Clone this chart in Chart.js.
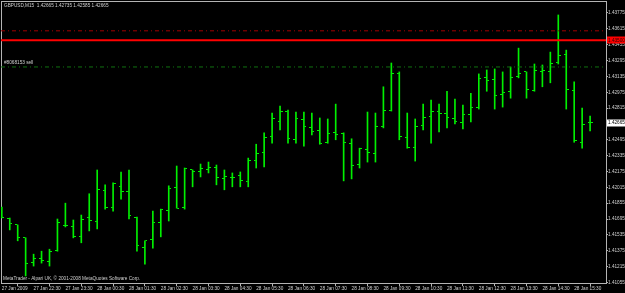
<!DOCTYPE html>
<html>
<head>
<meta charset="utf-8">
<script src="https://cdn.jsdelivr.net/npm/chart.js@4.4.1/dist/chart.umd.min.js"></script>
<style>
  html, body { margin: 0; padding: 0; background: #000; }
  #wrap { width: 625px; height: 293px; }
</style>
</head>
<body>
<div id="wrap"><canvas id="chart" width="625" height="293"></canvas></div>
<script>
// GBPUSD M15 bars, 27 Jan 2009 21:30 -> 28 Jan 2009 16:00
const symbolTitle = 'GBPUSD,M15  1.42665 1.42735 1.42585 1.42665';
const footerText = 'MetaTrader - Alpari UK, \u00a9 2001-2008 MetaQuotes Software Corp.';
const orderLabel = '#8068153 sell';

const opens = [
  1.41765, 1.41705, 1.41635, 1.41505, 1.41260, 1.41300, 1.41270, 1.41380, 1.41625, 1.41615,
  1.41515, 1.41715, 1.41665, 1.41980, 1.41815, 1.42020, 1.41970, 1.41715, 1.41410, 1.41485,
  1.41655, 1.41785, 1.42010, 1.41815, 1.42190, 1.42170, 1.42190, 1.42220, 1.42100, 1.42110,
  1.42130, 1.42070, 1.42290, 1.42370, 1.42525, 1.42675, 1.42785, 1.42495, 1.42695, 1.42615,
  1.42585, 1.42470, 1.42565, 1.42555, 1.42460, 1.42250, 1.42400, 1.42360, 1.42625, 1.42795,
  1.43160, 1.42515, 1.42420, 1.42635, 1.42725, 1.42785, 1.42765, 1.42705, 1.42665, 1.42755,
  1.42825, 1.43120, 1.43100, 1.42955, 1.42985, 1.43130, 1.43180, 1.42995, 1.43180, 1.43180,
  1.43280, 1.43360, 1.42995, 1.42470, 1.42665
];
const highs = [
  1.41815, 1.41705, 1.41635, 1.41505, 1.41340, 1.41370, 1.41390, 1.41695, 1.41855, 1.41685,
  1.41735, 1.41950, 1.42190, 1.42040, 1.42060, 1.42170, 1.42190, 1.41715, 1.41475, 1.41775,
  1.41795, 1.42030, 1.42230, 1.42210, 1.42190, 1.42250, 1.42270, 1.42240, 1.42190, 1.42160,
  1.42170, 1.42310, 1.42450, 1.42565, 1.42765, 1.42835, 1.42795, 1.42775, 1.42775, 1.42765,
  1.42715, 1.42705, 1.42855, 1.42565, 1.42505, 1.42410, 1.42775, 1.42765, 1.43030, 1.43270,
  1.43180, 1.42765, 1.42705, 1.42855, 1.42895, 1.42855, 1.42985, 1.42905, 1.42845, 1.42965,
  1.43160, 1.43200, 1.43210, 1.43180, 1.43230, 1.43420, 1.43180, 1.43260, 1.43250, 1.43380,
  1.43755, 1.43400, 1.43080, 1.42815, 1.42735
];
const lows = [
  1.41705, 1.41585, 1.41475, 1.41120, 1.41220, 1.41250, 1.41220, 1.41370, 1.41615, 1.41505,
  1.41455, 1.41575, 1.41595, 1.41795, 1.41775, 1.41895, 1.41695, 1.41370, 1.41240, 1.41400,
  1.41515, 1.41675, 1.41805, 1.41795, 1.42020, 1.42120, 1.42160, 1.42040, 1.41990, 1.42020,
  1.42020, 1.42020, 1.42210, 1.42220, 1.42460, 1.42595, 1.42460, 1.42460, 1.42430, 1.42545,
  1.42450, 1.42460, 1.42495, 1.42080, 1.42100, 1.42210, 1.42270, 1.42270, 1.42615, 1.42785,
  1.42495, 1.42410, 1.42280, 1.42595, 1.42460, 1.42575, 1.42615, 1.42655, 1.42605, 1.42675,
  1.42805, 1.42985, 1.42805, 1.42825, 1.42915, 1.43120, 1.42915, 1.42985, 1.43030, 1.43070,
  1.43260, 1.42805, 1.42470, 1.42410, 1.42585
];
const closes = [
  1.41715, 1.41645, 1.41505, 1.41250, 1.41300, 1.41280, 1.41370, 1.41655, 1.41625, 1.41515,
  1.41695, 1.41675, 1.41990, 1.41815, 1.42050, 1.41970, 1.41735, 1.41425, 1.41475, 1.41655,
  1.41795, 1.42000, 1.41805, 1.42200, 1.42170, 1.42200, 1.42220, 1.42110, 1.42120, 1.42110,
  1.42080, 1.42290, 1.42360, 1.42515, 1.42705, 1.42785, 1.42505, 1.42705, 1.42625, 1.42575,
  1.42460, 1.42555, 1.42545, 1.42470, 1.42240, 1.42410, 1.42370, 1.42625, 1.42795, 1.43160,
  1.42525, 1.42420, 1.42625, 1.42715, 1.42785, 1.42765, 1.42715, 1.42675, 1.42755, 1.42825,
  1.43110, 1.43090, 1.42945, 1.42975, 1.43120, 1.43160, 1.43005, 1.43190, 1.43190, 1.43270,
  1.43350, 1.43005, 1.42485, 1.42645, 1.42665
];

// one label every 4 bars (hourly)
const timeLabels = [
  '27 Jan 2009', '27 Jan 22:30', '27 Jan 23:30', '28 Jan 00:30', '28 Jan 01:30',
  '28 Jan 02:30', '28 Jan 03:30', '28 Jan 04:30', '28 Jan 05:30', '28 Jan 06:30',
  '28 Jan 07:30', '28 Jan 08:30', '28 Jan 09:30', '28 Jan 10:30', '28 Jan 11:30',
  '28 Jan 12:30', '28 Jan 13:30', '28 Jan 14:30', '28 Jan 15:30'
];
const priceTicks = [
  1.43775, 1.43615, 1.43455, 1.43295, 1.43135, 1.42975, 1.42815, 1.42655, 1.42495,
  1.42335, 1.42175, 1.42015, 1.41855, 1.41695, 1.41535, 1.41375, 1.41215, 1.41055
];

const stopLevel = 1.43595;  // red dash-dot
const lineLevel = 1.43500;  // red solid
const sellLevel = 1.43230;  // green dash-dot

const barColor = '#00f000';
const textColor = '#d0d0d0';
const axisColor = '#b4b4b4';
const tinyFont = { family: 'Liberation Sans', size: 4.7 };

function tickImage(side) {
  const c = document.createElement('canvas');
  c.width = 5;
  c.height = 1;
  const g = c.getContext('2d');
  g.fillStyle = barColor;
  g.fillRect(side === 'left' ? 0 : 3, 0, 2, 1);
  return c;
}

const xMin = -0.1, xMax = 76;

const background = {
  id: 'background',
  beforeDraw(chart) {
    const ctx = chart.ctx;
    ctx.save();
    ctx.fillStyle = '#000000';
    ctx.fillRect(0, 0, chart.width, chart.height);
    ctx.restore();
  }
};

const overlay = {
  id: 'overlay',
  afterDraw(chart) {
    const { ctx, chartArea } = chart;
    const yScale = chart.scales.y;
    ctx.save();
    ctx.font = '4.7px "Liberation Sans"';
    ctx.textBaseline = 'middle';
    ctx.textAlign = 'left';
    ctx.fillStyle = textColor;
    ctx.fillText(symbolTitle, chartArea.left + 3, chartArea.top + 5);
    ctx.fillText(orderLabel, chartArea.left + 3, yScale.getPixelForValue(sellLevel) - 4);
    ctx.fillText(footerText, chartArea.left + 2, chartArea.bottom - 4);

    // price boxes on the axis
    const boxes = [
      { v: lineLevel, bg: '#ff0000', fg: '#300000' },
      { v: closes[closes.length - 1], bg: '#ffffff', fg: '#000000' }
    ];
    boxes.forEach(b => {
      const y = yScale.getPixelForValue(b.v);
      ctx.fillStyle = b.bg;
      ctx.fillRect(chartArea.right + 1, Math.round(y) - 3.5, chart.width - chartArea.right, 7);
      ctx.fillStyle = b.fg;
      ctx.fillText(b.v.toFixed(5), chartArea.right + 2, y);
    });
    ctx.restore();
  }
};

const hLine = (level, color, width, dash) => ({
  type: 'line',
  data: [{ x: xMin, y: level }, { x: xMax, y: level }],
  borderColor: color,
  borderWidth: width,
  borderDash: dash,
  pointRadius: 0,
  order: 0
});

new Chart(document.getElementById('chart'), {
  type: 'bar',
  data: {
    datasets: [
      {
        type: 'bar',
        data: highs.map((h, i) => ({ x: i, y: [lows[i], h] })),
        backgroundColor: barColor,
        borderWidth: 0,
        barThickness: 1,
        grouped: false,
        order: 2
      },
      {
        type: 'scatter',
        data: opens.map((o, i) => ({ x: i, y: o })),
        pointStyle: tickImage('left'),
        pointRadius: 2,
        order: 2
      },
      {
        type: 'scatter',
        data: closes.map((c, i) => ({ x: i, y: c })),
        pointStyle: tickImage('right'),
        pointRadius: 2,
        order: 2
      },
      hLine(stopLevel, '#a00000', 1, [4, 3, 1, 3]),
      hLine(lineLevel, '#ff0000', 2, []),
      hLine(sellLevel, '#107010', 1, [4, 3, 1, 3])
    ]
  },
  options: {
    responsive: false,
    animation: false,
    events: [],
    layout: { padding: 0, autoPadding: false },
    plugins: { legend: { display: false }, tooltip: { enabled: false } },
    scales: {
      x: {
        type: 'linear',
        position: 'bottom',
        min: xMin,
        max: xMax,
        offset: false,
        afterBuildTicks: s => { s.ticks = timeLabels.map((_, k) => ({ value: k * 4 })); },
        afterFit: s => { s.height = 10; s.paddingLeft = 0; s.paddingRight = 0; },
        ticks: {
          autoSkip: false, maxRotation: 0, minRotation: 0, align: 'start', padding: 0,
          color: textColor, font: tinyFont,
          callback: v => timeLabels[Math.round(v / 4)]
        },
        grid: { drawOnChartArea: false, tickLength: 3, color: axisColor },
        border: { color: axisColor }
      },
      y: {
        type: 'linear',
        position: 'right',
        min: 1.41049,
        max: 1.43896,
        afterBuildTicks: s => { s.ticks = priceTicks.map(v => ({ value: v })); },
        afterFit: s => { s.width = 19; s.paddingTop = 0; s.paddingBottom = 0; },
        ticks: {
          autoSkip: false, padding: 0, color: textColor, font: tinyFont,
          callback: v => v.toFixed(5)
        },
        grid: { drawOnChartArea: false, tickLength: 2, color: axisColor },
        border: { color: axisColor }
      },
      xTop: {
        type: 'linear',
        position: 'top',
        min: 0, max: 1,
        afterFit: s => { s.height = 1; s.paddingLeft = 0; s.paddingRight = 0; },
        ticks: { display: false },
        grid: { drawOnChartArea: false, drawTicks: false },
        border: { color: axisColor }
      },
      yLeft: {
        type: 'linear',
        position: 'left',
        min: 0, max: 1,
        afterFit: s => { s.width = 1; s.paddingTop = 0; s.paddingBottom = 0; },
        ticks: { display: false },
        grid: { drawOnChartArea: false, drawTicks: false },
        border: { color: axisColor }
      }
    }
  },
  plugins: [background, overlay]
});
</script>
</body>
</html>
